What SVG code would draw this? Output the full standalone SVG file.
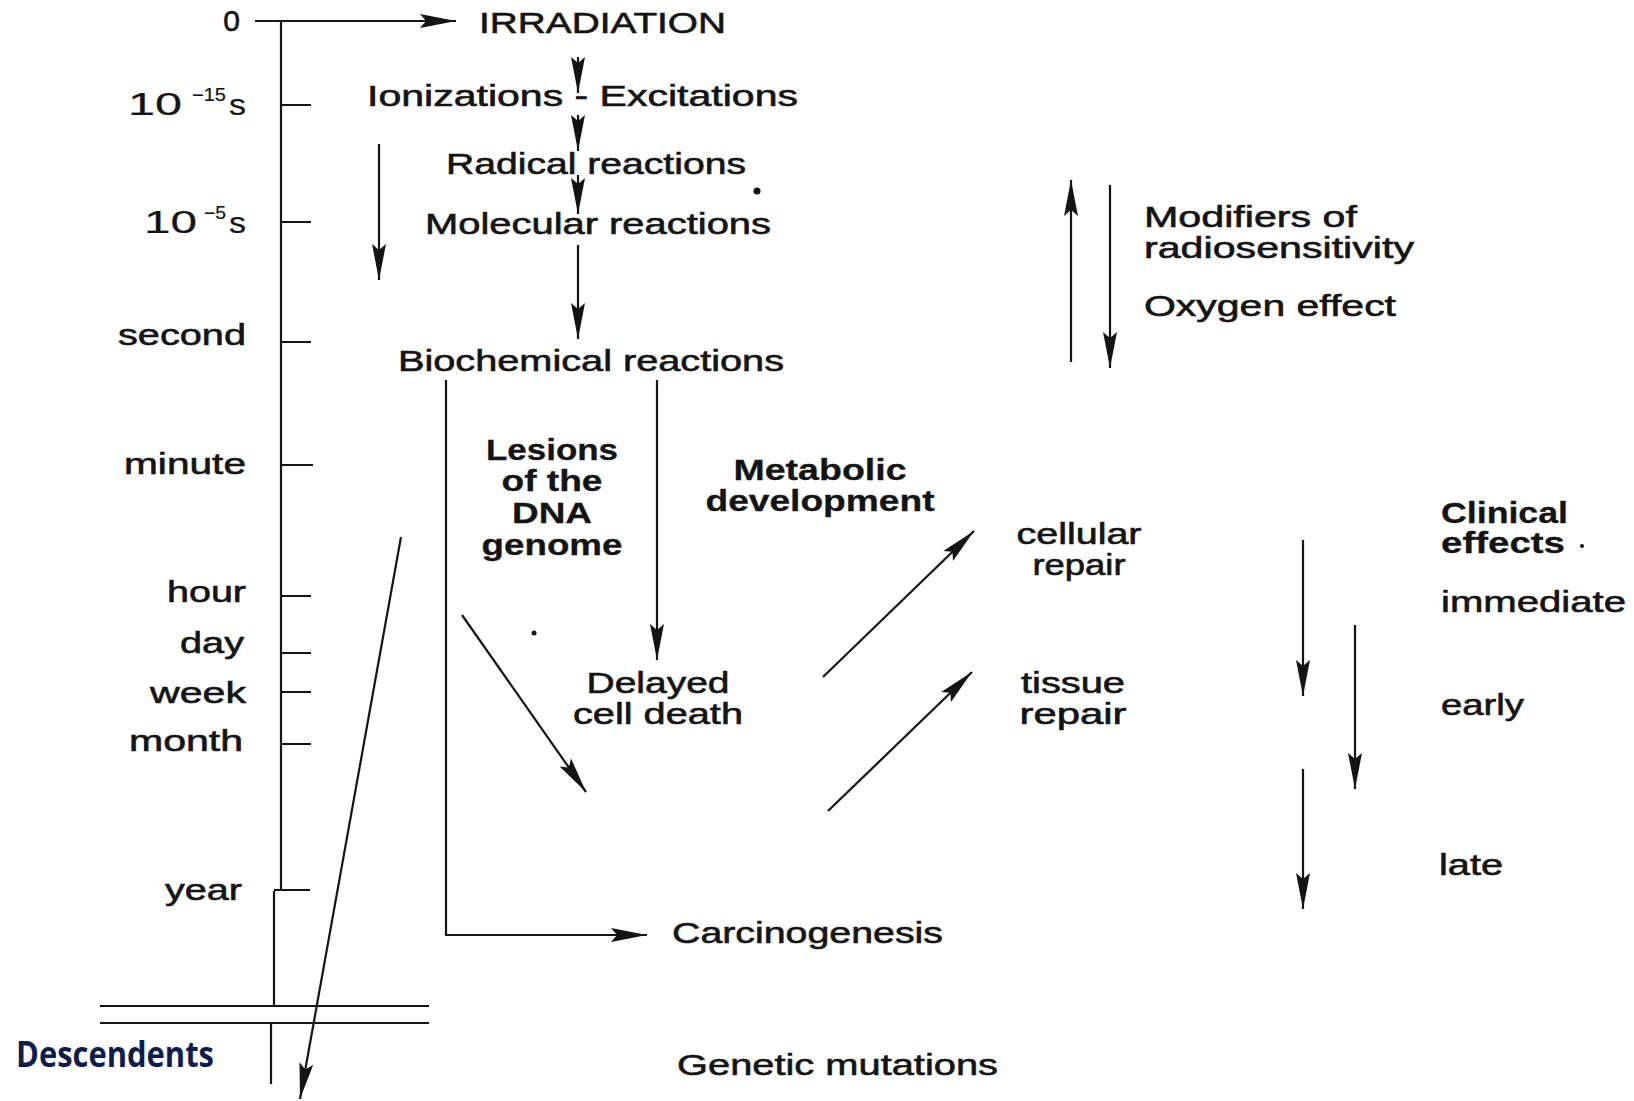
<svg xmlns="http://www.w3.org/2000/svg" width="1634" height="1101" viewBox="0 0 1634 1101">
<style>
.t{font-family:"Liberation Sans",Arial,sans-serif;font-size:30px;fill:#141414;stroke:#141414;stroke-width:0.6}
.b{font-weight:bold;stroke-width:0.3}
.m{text-anchor:middle}
.e{text-anchor:end}
.n{stroke-width:0.2}
.ln{stroke:#141414;stroke-width:2.2;fill:none}
.ar{stroke:#141414;stroke-width:2.2;fill:none;marker-end:url(#ah)}
</style>
<defs>
<marker id="ah" markerUnits="userSpaceOnUse" markerWidth="40" markerHeight="18" refX="36" refY="8" orient="auto">
<path d="M0,1 L36,8 L0,15 L6,8 Z" fill="#141414"/>
</marker>
</defs>
<rect width="1634" height="1101" fill="#ffffff"/>

<g id="timescale">
<text class="t e" x="240" y="31">0</text>
<text class="t n" y="115"><tspan x="128" font-size="31" textLength="54" lengthAdjust="spacingAndGlyphs">10</tspan><tspan x="192" y="101" font-size="18" textLength="34" lengthAdjust="spacingAndGlyphs">−15</tspan><tspan x="229" y="115" textLength="17" lengthAdjust="spacingAndGlyphs">s</tspan></text>
<text class="t n" y="233"><tspan x="144" font-size="31" textLength="53" lengthAdjust="spacingAndGlyphs">10</tspan><tspan x="204" y="219" font-size="18" textLength="22" lengthAdjust="spacingAndGlyphs">−5</tspan><tspan x="229" y="233" textLength="17" lengthAdjust="spacingAndGlyphs">s</tspan></text>
<text class="t e" x="246" y="345" textLength="128" lengthAdjust="spacingAndGlyphs">second</text>
<text class="t e" x="246" y="474" textLength="122" lengthAdjust="spacingAndGlyphs">minute</text>
<text class="t e" x="246" y="602" textLength="79" lengthAdjust="spacingAndGlyphs">hour</text>
<text class="t e" x="244" y="653" textLength="64" lengthAdjust="spacingAndGlyphs">day</text>
<text class="t e" x="246" y="703" textLength="96" lengthAdjust="spacingAndGlyphs">week</text>
<text class="t e" x="243" y="751" textLength="114" lengthAdjust="spacingAndGlyphs">month</text>
<text class="t e" x="242" y="900" textLength="77" lengthAdjust="spacingAndGlyphs" font-size="26">year</text>
</g>

<g id="connectors">
<path class="ln" d="M281,21 V891 M274,891 V1006 M271,1023 V1084"/>
<path class="ln" d="M281,105 H311 M281,222 H311 M281,342 H311 M281,465 H313 M281,596 H311 M281,653 H311 M281,692 H311 M281,744 H311 M274,890 H310"/>
<path class="ln" d="M100,1006 H429 M100,1023 H429"/>
<line class="ar" x1="255" y1="21" x2="456" y2="21"/>
<line class="ar" x1="578" y1="57" x2="578" y2="93"/>
<line class="ar" x1="578" y1="115" x2="578" y2="151"/>
<line class="ar" x1="578" y1="175" x2="578" y2="214"/>
<line class="ar" x1="578" y1="245" x2="578" y2="339"/>
<line class="ar" x1="379" y1="144" x2="379" y2="280"/>
<path class="ar" d="M446,380 V935 H647"/>
<line class="ar" x1="657" y1="380" x2="657" y2="660"/>
<line class="ar" x1="462" y1="615" x2="586" y2="792"/>
<line class="ar" x1="823" y1="677" x2="974" y2="531"/>
<line class="ar" x1="828" y1="811" x2="972" y2="672"/>
<line class="ar" x1="1071" y1="362" x2="1071" y2="180"/>
<line class="ar" x1="1110" y1="185" x2="1110" y2="368"/>
<line class="ar" x1="1303" y1="540" x2="1303" y2="696"/>
<line class="ar" x1="1355" y1="625" x2="1355" y2="789"/>
<line class="ar" x1="1303" y1="769" x2="1303" y2="909"/>
<line class="ar" x1="401" y1="537" x2="300" y2="1099"/>
</g>

<g id="irradiation"><text class="t" x="479" y="33" textLength="247" lengthAdjust="spacingAndGlyphs">IRRADIATION</text></g>
<g id="ionizations"><text class="t" x="367" y="106" textLength="431" lengthAdjust="spacingAndGlyphs">Ionizations - Excitations</text></g>
<g id="radical"><text class="t" x="446" y="174" textLength="300" lengthAdjust="spacingAndGlyphs">Radical reactions</text></g>
<g id="molecular"><text class="t" x="425" y="234" textLength="346" lengthAdjust="spacingAndGlyphs">Molecular reactions</text></g>
<g id="biochemical"><text class="t" x="398" y="371" textLength="386" lengthAdjust="spacingAndGlyphs">Biochemical reactions</text></g>
<g id="lesions">
<text class="t b m" x="552" y="460" textLength="132" lengthAdjust="spacingAndGlyphs">Lesions</text>
<text class="t b m" x="552" y="491" textLength="101" lengthAdjust="spacingAndGlyphs">of the</text>
<text class="t b m" x="552" y="523" textLength="80" lengthAdjust="spacingAndGlyphs">DNA</text>
<text class="t b m" x="552" y="555" textLength="141" lengthAdjust="spacingAndGlyphs">genome</text>
</g>
<g id="metabolic">
<text class="t b m" x="820" y="480" textLength="173" lengthAdjust="spacingAndGlyphs">Metabolic</text>
<text class="t b m" x="820" y="511" textLength="229" lengthAdjust="spacingAndGlyphs">development</text>
</g>
<g id="delayed">
<text class="t m" x="658" y="693" textLength="143" lengthAdjust="spacingAndGlyphs">Delayed</text>
<text class="t m" x="658" y="724" textLength="170" lengthAdjust="spacingAndGlyphs">cell death</text>
</g>
<g id="cellular">
<text class="t m" x="1079" y="544" textLength="125" lengthAdjust="spacingAndGlyphs">cellular</text>
<text class="t m" x="1079" y="575" textLength="93" lengthAdjust="spacingAndGlyphs">repair</text>
</g>
<g id="tissue">
<text class="t m" x="1073" y="693" textLength="104" lengthAdjust="spacingAndGlyphs">tissue</text>
<text class="t m" x="1073" y="724" textLength="107" lengthAdjust="spacingAndGlyphs">repair</text>
</g>
<g id="modifiers">
<text class="t" x="1144" y="227" font-size="26" textLength="213" lengthAdjust="spacingAndGlyphs">Modifiers of</text>
<text class="t" x="1144" y="258" font-size="26" textLength="270" lengthAdjust="spacingAndGlyphs">radiosensitivity</text>
<text class="t" x="1144" y="316" textLength="252" lengthAdjust="spacingAndGlyphs">Oxygen effect</text>
</g>
<g id="clinical">
<text class="t b" x="1441" y="523" textLength="127" lengthAdjust="spacingAndGlyphs">Clinical</text>
<text class="t b" x="1441" y="553" textLength="124" lengthAdjust="spacingAndGlyphs">effects</text>
<circle cx="1582" cy="546" r="2" fill="#141414"/>
<text class="t" x="1441" y="612" textLength="185" lengthAdjust="spacingAndGlyphs">immediate</text>
<text class="t" x="1441" y="715" textLength="83" lengthAdjust="spacingAndGlyphs">early</text>
<text class="t" x="1439" y="875" textLength="64" lengthAdjust="spacingAndGlyphs">late</text>
</g>
<g id="carcinogenesis"><text class="t" x="672" y="943" textLength="271" lengthAdjust="spacingAndGlyphs">Carcinogenesis</text></g>
<g id="genetic"><text class="t" x="677" y="1075" textLength="321" lengthAdjust="spacingAndGlyphs">Genetic mutations</text></g>
<g id="descendents"><text x="16" y="1067" font-family="'Open Sans','Noto Sans',sans-serif" font-weight="bold" font-size="35" fill="#0f1d4d" textLength="198" lengthAdjust="spacingAndGlyphs">Descendents</text></g>
<g id="specks">
<circle cx="757" cy="191" r="3.5" fill="#141414"/>
<circle cx="534" cy="633" r="2.5" fill="#141414"/>
</g>
</svg>
